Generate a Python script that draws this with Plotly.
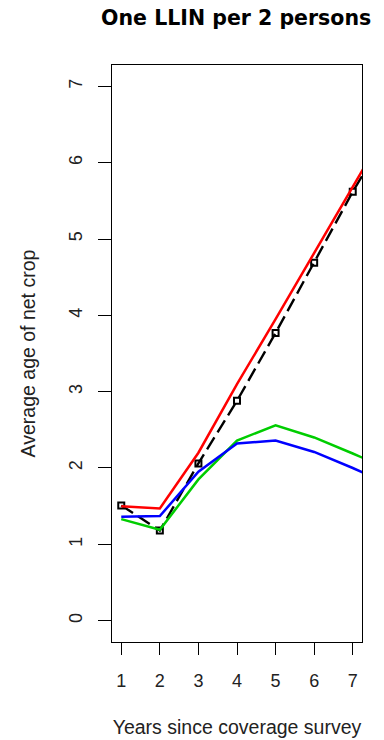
import plotly.graph_objects as go

years = [1, 2, 3, 4, 5, 6, 7, 8]
observed = [1.51, 1.18, 2.06, 2.88, 3.77, 4.69, 5.62, 6.47]
red_vals = [1.50, 1.47, 2.20, 3.10, 3.95, 4.82, 5.70, 6.55]
green_vals = [1.33, 1.19, 1.85, 2.36, 2.56, 2.40, 2.19, 1.97]
blue_vals = [1.36, 1.37, 1.95, 2.32, 2.36, 2.21, 2.00, 1.78]

x_ticks = [1, 2, 3, 4, 5, 6, 7]
y_ticks = [0, 1, 2, 3, 4, 5, 6, 7]

fig = go.Figure()
fig.add_trace(go.Scatter(x=years, y=observed, mode="lines+markers",
                         line=dict(color="black", width=2.4, dash="14px,6px"),
                         marker=dict(symbol="square-open", size=6, color="black",
                                     line=dict(width=2, color="black"))))
fig.add_trace(go.Scatter(x=years, y=red_vals, mode="lines",
                         line=dict(color="#ff0000", width=2.5)))
fig.add_trace(go.Scatter(x=years, y=green_vals, mode="lines",
                         line=dict(color="#00cd00", width=2.5)))
fig.add_trace(go.Scatter(x=years, y=blue_vals, mode="lines",
                         line=dict(color="#0000ff", width=2.5)))

tick_font = dict(family="Liberation Sans, Arial, sans-serif", size=18, color="#222222")
title_font = dict(family="Liberation Sans, Arial, sans-serif", size=19.5, color="#222222")

fig.update_layout(
    width=384, height=740,
    margin=dict(l=112, r=22, t=65, b=98),
    paper_bgcolor="white", plot_bgcolor="white",
    showlegend=False,
    title=dict(text="<b>One LLIN per 2 persons</b>", x=0.615, xanchor="center",
               y=0.976, yanchor="middle",
               font=dict(family="DejaVu Sans, Verdana, sans-serif", size=20.5, color="black")),
    xaxis=dict(range=[0.76, 7.24], tickvals=x_ticks, ticks="outside", ticklen=12,
               tickcolor="black", tickwidth=1, showline=True, linecolor="black",
               linewidth=1, mirror=True, showgrid=False, zeroline=False,
               tickfont=tick_font, ticklabelstandoff=10, automargin=False,
               title=dict(text="Years since coverage survey", font=title_font, standoff=30)),
    yaxis=dict(range=[-0.28, 7.28], tickvals=y_ticks, ticks="outside", ticklen=13,
               tickcolor="black", tickwidth=1, showline=True, linecolor="black",
               linewidth=1, mirror=True, showgrid=False, zeroline=False,
               tickangle=-90, tickfont=tick_font, ticklabelstandoff=9, automargin=False,
               title=dict(text="Average age of net crop", font=title_font, standoff=24)),
)

fig.write_html("out.html")
